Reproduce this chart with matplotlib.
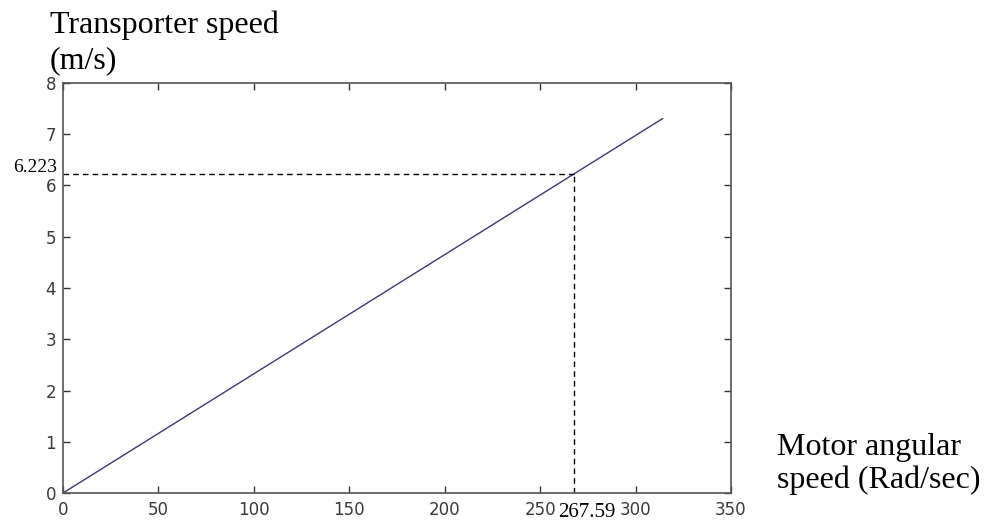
import matplotlib
matplotlib.use("Agg")
import matplotlib.pyplot as plt

# Data
speed_x = [0.0, 314.16]          # motor angular speed (rad/s)
speed_y = [0.0, 7.306]           # transporter speed (m/s)
mark_x = 267.59
mark_y = 6.223
x_ticks = [0, 50, 100, 150, 200, 250, 300, 350]
x_tick_labels = ["0", "50", "100", "150", "200", "250", "300", "350"]
y_ticks = [0, 1, 2, 3, 4, 5, 6, 7, 8]
y_tick_labels = ["0", "1", "2", "3", "4", "5", "6", "7", "8"]

fig = plt.figure(figsize=(9.93, 5.23), dpi=100)
ax = fig.add_axes([63/993, 30/523, (731-63)/993, (493-83)/523])

ax.plot(speed_x, speed_y, color="#3a3a78", lw=1.0)
ax.plot([0, mark_x], [mark_y, mark_y], color="black", lw=1.0, ls=(0, (4, 3)))
ax.plot([mark_x, mark_x], [0, mark_y], color="black", lw=1.0, ls=(0, (4, 3)))

ax.set_xlim(0, 350)
ax.set_ylim(0, 8)
ax.set_xticks(x_ticks)
ax.set_xticklabels(x_tick_labels)
ax.set_yticks(y_ticks)
ax.set_yticklabels(y_tick_labels)
ax.tick_params(direction="in", length=5, width=1.0, color="#333333",
               top=True, right=True, labelsize=12, labelcolor="#3a3a3a")
ax.tick_params(axis="x", pad=6)
ax.tick_params(axis="y", pad=5)
for lab in ax.get_xticklabels() + ax.get_yticklabels():
    lab.set_family("DejaVu Sans")
for s in ax.spines.values():
    s.set_color("#555555")
    s.set_linewidth(1.2)

serif = "Liberation Serif"
fig.text(57/993, 1 - 172/523, "6.223", ha="right", va="baseline",
         fontsize=14, family=serif)
fig.text(558/993, 1 - 503/523, "267.59", ha="left", va="top",
         fontsize=15, family=serif)

fig.text(50/993, 1 - 33/523, "Transporter speed", fontsize=23, family=serif,
         ha="left", va="baseline")
fig.text(50/993, 1 - 68/523, "(m/s)", fontsize=23, family=serif,
         ha="left", va="baseline")
fig.text(777/993, 1 - 455/523, "Motor angular", fontsize=23, family=serif,
         ha="left", va="baseline")
fig.text(777/993, 1 - 488/523, "speed (Rad/sec)", fontsize=23, family=serif,
         ha="left", va="baseline")

fig.savefig("out.png", dpi=100)
